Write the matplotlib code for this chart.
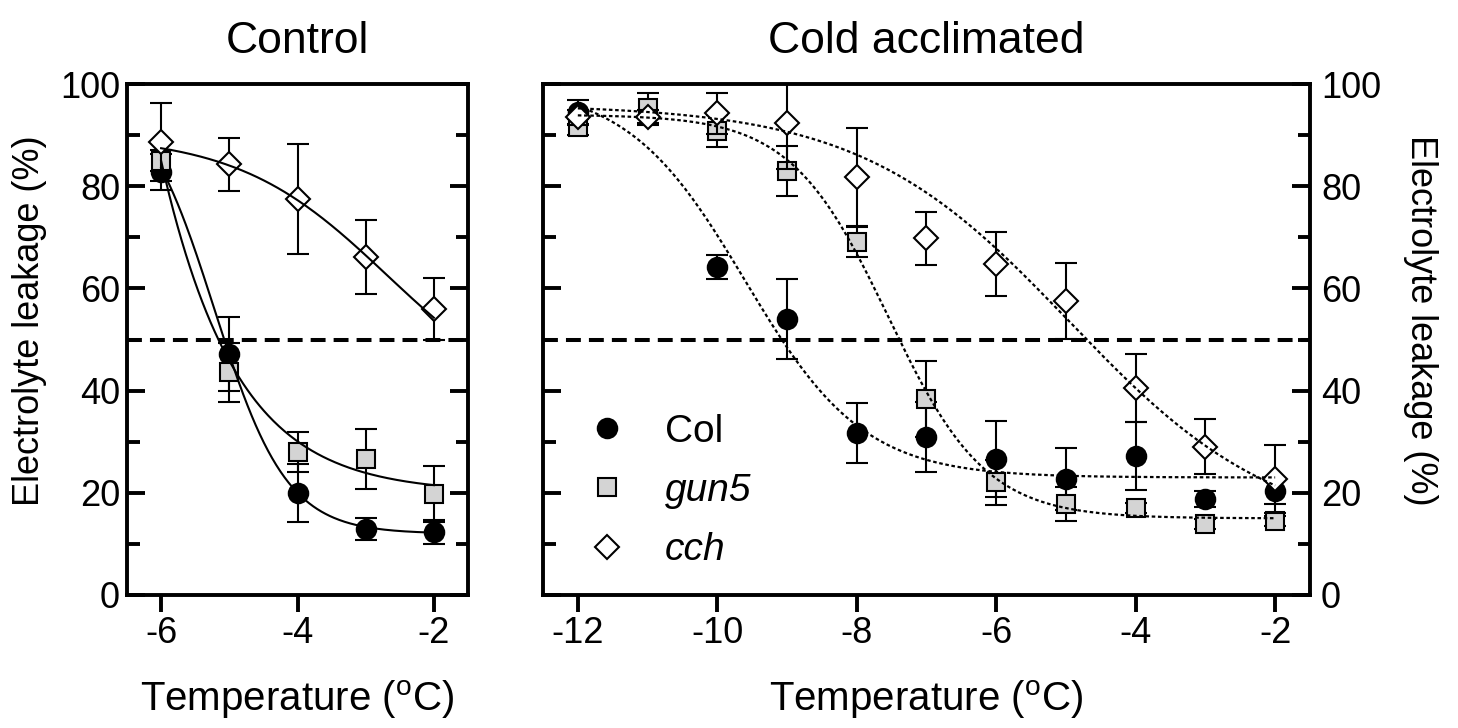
import numpy as np
import matplotlib.pyplot as plt
from matplotlib.lines import Line2D

plt.rcParams['font.family'] = ['Liberation Sans', 'DejaVu Sans']
plt.rcParams['mathtext.fontset'] = 'custom'
plt.rcParams['mathtext.rm'] = 'Liberation Sans'
plt.rcParams['axes.unicode_minus'] = False

# ---- data ----
ctrl_temp = [-6, -5, -4, -3, -2]
ctrl_col = [82.8, 47.2, 20.0, 12.9, 12.3]
ctrl_col_err = [3.5, 7.2, 5.7, 2.2, 2.3]
ctrl_gun5 = [85.0, 43.6, 28.0, 26.6, 19.8]
ctrl_gun5_err = [2.0, 5.8, 3.9, 5.9, 5.5]
ctrl_cch = [88.7, 84.3, 77.5, 66.1, 56.0]
ctrl_cch_err = [7.6, 5.2, 10.7, 7.2, 6.0]

cold_temp = [-12, -11, -10, -9, -8, -7, -6, -5, -4, -3, -2]
cold_col_temp = [-12, -10, -9, -8, -7, -6, -5, -4, -3, -2]
cold_col = [94.5, 64.2, 54.0, 31.7, 30.9, 26.6, 22.7, 27.2, 18.8, 20.4]
cold_col_err = [2.4, 2.4, 7.8, 5.9, 6.8, 7.5, 6.1, 6.6, 1.5, 2.5]
cold_gun5 = [91.6, 95.3, 90.8, 83.0, 69.1, 38.4, 22.1, 17.8, 17.0, 13.9, 14.5]
cold_gun5_err = [1.5, 3.0, 3.1, 4.9, 2.9, 7.4, 4.4, 3.3, 1.0, 1.0, 1.0]
cold_cch = [93.5, 93.5, 94.3, 92.4, 81.8, 69.8, 64.8, 57.5, 40.5, 29.0, 22.7]
cold_cch_err = [1.5, 1.5, 4.0, 9.0, 9.6, 5.2, 6.3, 7.4, 6.7, 5.4, 6.7]

# Boltzmann fit parameters (top, bottom, x50, slope) estimated from the curves
ctrl_fit_col = [100, 12, -5.22, 0.53]
ctrl_fit_gun5 = [1229, 20, -9.0, 1.046]
ctrl_fit_cch = [90, 35, -2.68, 1.1]
cold_fit_col = [100, 23, -9.6, 0.85]
cold_fit_gun5 = [94, 15, -7.55, 0.7]
cold_fit_cch = [96, 11, -4.95, 1.5]


def boltzmann(x, p):
    top, bottom, x50, slope = p
    return bottom + (top - bottom) / (1 + np.exp((x - x50) / slope))


fs = 26
gray = '#d4d4d4'
styles = {
    'Col': dict(marker='o', ms=14, mfc='black', mec='black'),
    'gun5': dict(marker='s', ms=13, mfc=gray, mec='black'),
    'cch': dict(marker='D', ms=12, mfc='white', mec='black'),
}

fig = plt.figure(figsize=(14.58, 7.28), dpi=100)
ax1 = fig.add_axes([0.0871, 0.1827, 0.2339, 0.7019])
ax2 = fig.add_axes([0.3724, 0.1827, 0.5261, 0.7019])


def draw_series(ax, x, y, err, name, z):
    ax.errorbar(x, y, yerr=err, fmt='none', ecolor='black', elinewidth=1.5,
                capsize=8, capthick=1.5, zorder=z)
    ax.plot(x, y, linestyle='none', mew=1.5, zorder=z + 0.1, **styles[name])


# control panel
draw_series(ax1, ctrl_temp, ctrl_col, ctrl_col_err, 'Col', 3)
draw_series(ax1, ctrl_temp, ctrl_gun5, ctrl_gun5_err, 'gun5', 4)
draw_series(ax1, ctrl_temp, ctrl_cch, ctrl_cch_err, 'cch', 5)
xs = np.linspace(-6, -2, 200)
for p in [ctrl_fit_col, ctrl_fit_gun5, ctrl_fit_cch]:
    ax1.plot(xs, boltzmann(xs, p), color='black', lw=1.5, zorder=6)

# cold acclimated panel
draw_series(ax2, cold_col_temp, cold_col, cold_col_err, 'Col', 3)
draw_series(ax2, cold_temp, cold_gun5, cold_gun5_err, 'gun5', 4)
draw_series(ax2, cold_temp, cold_cch, cold_cch_err, 'cch', 5)
xs = np.linspace(-12, -2, 300)
for p in [cold_fit_col, cold_fit_gun5, cold_fit_cch]:
    ax2.plot(xs, boltzmann(xs, p), color='black', lw=1.6,
             linestyle=(0, (1.6, 1.2)), zorder=6)

for ax in [ax1, ax2]:
    ax.axhline(50, color='black', lw=2.9, linestyle=(0, (3.7, 2)), zorder=2)
    ax.set_ylim(0, 100)
    ax.set_yticks([0, 20, 40, 60, 80, 100])
    ax.set_yticks([10, 30, 50, 70, 90], minor=True)
    for s in ax.spines.values():
        s.set_linewidth(2.8)
    ax.tick_params(axis='y', which='major', direction='in', length=13,
                   width=2.8, left=True, right=True, labelsize=fs)
    ax.tick_params(axis='y', which='minor', direction='in', length=9,
                   width=2.8, left=True, right=True)
    ax.tick_params(axis='x', which='major', direction='out', length=12,
                   width=2.8, top=False, labelsize=fs, pad=3)
    ax.tick_params(axis='x', which='minor', bottom=False, top=False)
    ax.set_xlabel(r'Temperature ($^{\mathrm{o}}$C)', fontsize=29, labelpad=20)

ax1.set_xlim(-6.5, -1.5)
ax1.set_xticks([-6, -4, -2])
ax1.tick_params(axis='y', which='major', pad=5)
ax1.set_title('Control', fontsize=32, pad=22)
ax1.set_ylabel('Electrolyte leakage (%)', fontsize=fs)
ax1.yaxis.set_label_coords(-0.235, 0.536)

ax2.set_xlim(-12.5, -1.5)
ax2.set_xticks([-12, -10, -8, -6, -4, -2])
ax2.tick_params(axis='y', which='major', labelleft=False, labelright=True, pad=8)
ax2.set_title('Cold acclimated', fontsize=32, pad=22)
ax2.yaxis.set_label_position('right')
ax2.set_ylabel('Electrolyte leakage (%)', fontsize=fs, rotation=270, va='bottom')
ax2.yaxis.set_label_coords(1.121, 0.538)

handles = [Line2D([], [], linestyle='none', mew=1.5, **styles[k]) for k in ['Col', 'gun5', 'cch']]
leg = ax2.legend(handles, ['Col', 'gun5', 'cch'], loc='upper left',
                 bbox_to_anchor=(0.058, 0.355), frameon=False, fontsize=28,
                 handlelength=1.0, handletextpad=1.0, labelspacing=0.6,
                 borderpad=0, borderaxespad=0)
leg.get_texts()[1].set_style('italic')
leg.get_texts()[2].set_style('italic')

plt.savefig('out.png', dpi=100)
